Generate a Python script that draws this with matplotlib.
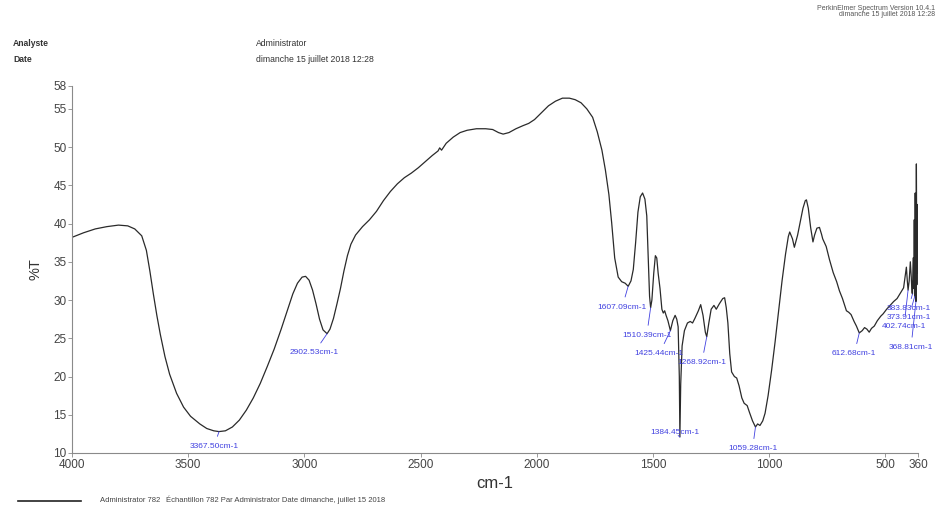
import matplotlib
matplotlib.use("Agg")
import matplotlib.pyplot as plt

plt.rcParams['font.family'] = ['Liberation Sans', 'DejaVu Sans']

# IR spectrum (wavenumber in cm-1, transmittance in %T)
wavenumber = [
    4000, 3950, 3900, 3850, 3800, 3760, 3730, 3700, 3680, 3665, 3650, 3635,
    3620, 3600, 3580, 3550, 3520, 3490, 3450, 3420, 3390, 3367.5, 3340, 3310,
    3280, 3250, 3220, 3190, 3160, 3130, 3100, 3075, 3050, 3030, 3010, 2995,
    2980, 2965, 2950, 2935, 2920, 2902.5, 2890, 2875, 2860, 2845, 2830, 2815,
    2800, 2780, 2750, 2720, 2690, 2660, 2630, 2600, 2570, 2540, 2510, 2480,
    2450, 2425, 2418, 2410, 2390, 2360, 2330, 2300, 2260, 2220, 2190, 2165,
    2145, 2120, 2090, 2060, 2035, 2010, 1980, 1950, 1920, 1890, 1860, 1835,
    1810, 1785, 1760, 1740, 1720, 1705, 1690, 1678, 1665, 1650, 1635, 1620,
    1607, 1595, 1585, 1575, 1565, 1555, 1545, 1535, 1527, 1520, 1515, 1510.4,
    1505, 1497, 1490, 1484, 1478, 1470, 1462, 1456, 1450, 1444, 1436, 1425.4,
    1415, 1405, 1398, 1392, 1387, 1384.5, 1381, 1375, 1365, 1352, 1340, 1330,
    1320, 1305, 1295, 1285, 1275, 1269, 1260, 1250, 1238, 1228, 1215, 1200,
    1192, 1185, 1178, 1170, 1162, 1150, 1140, 1130, 1118, 1108, 1095, 1085,
    1072, 1059.3, 1050, 1040, 1028, 1018, 1005, 990, 975, 960, 945, 930,
    918, 912, 900, 892, 884, 878, 868, 855, 845, 840, 832, 822,
    812, 805, 795, 784, 775, 770, 755, 741, 725, 710, 698, 685,
    668, 658, 648, 635,
    625, 612.7, 600, 590, 580, 570, 560, 548, 535, 520, 510, 495,
    480, 465, 450, 440, 430, 422, 415, 410, 406, 402.7, 398, 393,
    389, 386, 383.8, 381, 378, 376, 373.9, 372, 370, 368.8, 367, 365,
    363, 361.5, 360,
]
transmittance = [
    38.2, 38.8, 39.3, 39.6, 39.8, 39.7, 39.3, 38.4, 36.5, 33.8, 30.8, 28.0,
    25.5, 22.6, 20.3, 17.8, 16.0, 14.8, 13.8, 13.2, 12.9, 12.8, 12.9, 13.4,
    14.3, 15.6, 17.2, 19.1, 21.3, 23.6, 26.2, 28.5, 30.8, 32.2, 33.0, 33.1,
    32.6, 31.3, 29.5, 27.5, 26.1, 25.6, 26.2, 27.6, 29.5, 31.5, 33.8, 35.8,
    37.3, 38.5, 39.6, 40.5, 41.6, 43.0, 44.2, 45.2, 46.0, 46.6, 47.3, 48.1,
    48.9, 49.5, 49.9, 49.6, 50.5, 51.3, 51.9, 52.2, 52.4, 52.4, 52.3, 51.9,
    51.7, 51.9, 52.4, 52.8, 53.1, 53.6, 54.5, 55.4, 56.0, 56.4, 56.4, 56.2,
    55.8, 55.0, 53.9, 52.0, 49.6, 47.0, 43.8, 40.1, 35.5, 33.0, 32.4, 32.2,
    31.8, 32.5, 34.0, 37.5, 41.5, 43.5, 44.0, 43.2, 41.0, 35.0, 30.5, 29.0,
    30.0, 33.5, 35.8, 35.5, 33.5, 31.5, 28.8, 28.3, 28.6, 28.0, 27.3, 26.0,
    27.3, 28.0, 27.5, 26.5, 20.0, 12.1, 19.0, 24.0, 26.0, 27.0, 27.2, 27.0,
    27.6, 28.6, 29.4, 28.0, 25.8, 25.2, 27.0, 28.8, 29.3, 28.8, 29.5, 30.2,
    30.3, 29.0, 27.0, 23.0, 20.6, 20.0, 19.8, 18.8, 17.2, 16.5, 16.2, 15.3,
    14.2, 13.4, 13.8, 13.6, 14.2, 15.2, 17.5, 20.8, 24.5, 28.5, 32.5, 36.0,
    38.3, 38.9, 38.0, 36.9, 37.8, 38.5, 40.0, 42.0, 43.0, 43.1, 42.0, 39.5,
    37.6, 38.5, 39.4, 39.5, 38.6, 38.0, 37.0, 35.3, 33.6, 32.4, 31.2, 30.2,
    28.6, 28.4, 28.1, 27.2,
    26.6, 25.7, 26.0, 26.4, 26.2, 25.8, 26.3, 26.6, 27.3, 27.9, 28.2, 28.8,
    29.3, 29.8, 30.2, 30.7, 31.2, 31.6, 33.2, 34.3, 32.5, 31.3, 32.5, 35.0,
    33.0, 31.0, 30.8, 35.5, 31.5, 40.5, 30.5, 44.0, 33.0, 29.8, 47.8, 32.0,
    42.5, 33.5, 36.0,
]

# Picked peaks
peak_wn = [3367.50, 2902.53, 1607.09, 1510.39, 1425.44, 1384.45, 1268.92,
           1059.28, 612.68, 402.74, 383.83, 373.91, 368.81]
peak_t = [12.8, 25.6, 31.8, 29.0, 26.0, 12.1, 25.2,
          13.4, 25.7, 31.3, 30.8, 30.5, 29.8]
# label offsets in pixels (dx, dy)
peak_offsets = [(-5, -15), (-13, -19), (-6, -21), (-4, -28), (-11, -23),
                (-5, 4), (-5, -26), (-3, -22), (-5, -21), (-4, -36),
                (-4, -15), (-6, -21), (-5, -46)]

x_ticks = [4000, 3500, 3000, 2500, 2000, 1500, 1000, 500, 360]
y_ticks = [10, 15, 20, 25, 30, 35, 40, 45, 50, 55, 58]

fig = plt.figure(figsize=(9.4, 5.17), dpi=100)
ax = fig.add_axes([0.0766, 0.1238, 0.9, 0.71])

ax.plot(wavenumber, transmittance, color='#2a2a2a', lw=0.9)

ax.set_xlim(4000, 360)
ax.set_ylim(10, 58)
ax.set_xticks(x_ticks)
ax.set_xticklabels([str(v) for v in x_ticks])
ax.set_yticks(y_ticks)

for s in ['top', 'right']:
    ax.spines[s].set_visible(False)
for s in ['left', 'bottom']:
    ax.spines[s].set_color('#8a8a8a')
    ax.spines[s].set_linewidth(0.8)
ax.tick_params(direction='out', length=3, width=0.6, color='#8a8a8a',
               labelsize=8.5, labelcolor='#444444', pad=1)

ax.set_xlabel('cm-1', fontsize=12, color='#333333', labelpad=4)
ax.set_ylabel('%T', fontsize=10.5, color='#333333', labelpad=8)

label_color = '#4040e0'
for wn, t, (dx, dy) in zip(peak_wn, peak_t, peak_offsets):
    ax.annotate(f'{wn:.2f}cm-1', xy=(wn, t), xytext=(dx, dy),
                textcoords='offset pixels', ha='center', va='center',
                fontsize=6, color=label_color,
                arrowprops=dict(arrowstyle='-', color=label_color, lw=0.6,
                                shrinkA=3, shrinkB=0))

# header
fig.text(13 / 940, 1 - 43 / 517, 'Analyste', fontsize=6.2, weight='bold',
         color='#333333', va='center')
fig.text(13 / 940, 1 - 60 / 517, 'Date', fontsize=6.2, weight='bold',
         color='#333333', va='center')
fig.text(256 / 940, 1 - 43 / 517, 'Administrator', fontsize=6.2,
         color='#333333', va='center')
fig.text(256 / 940, 1 - 60 / 517, 'dimanche 15 juillet 2018 12:28',
         fontsize=6.2, color='#333333', va='center')
fig.text(935 / 940, 1 - 8 / 517, 'PerkinElmer Spectrum Version 10.4.1',
         fontsize=5, color='#555555', va='center', ha='right')
fig.text(935 / 940, 1 - 15 / 517, 'dimanche 15 juillet 2018 12:28',
         fontsize=5, color='#555555', va='center', ha='right')

# footer legend
fig.add_artist(plt.Line2D([18 / 940, 81 / 940], [1 - 501 / 517, 1 - 501 / 517],
                          color='#222222', lw=1.2))
fig.text(100 / 940, 1 - 500 / 517, 'Administrator 782', fontsize=5.5,
         color='#444444', va='center')
fig.text(166 / 940, 1 - 500 / 517,
         'Échantillon 782 Par Administrator Date dimanche, juillet 15 2018',
         fontsize=5.5, color='#444444', va='center')

fig.savefig('out.png', dpi=100)
